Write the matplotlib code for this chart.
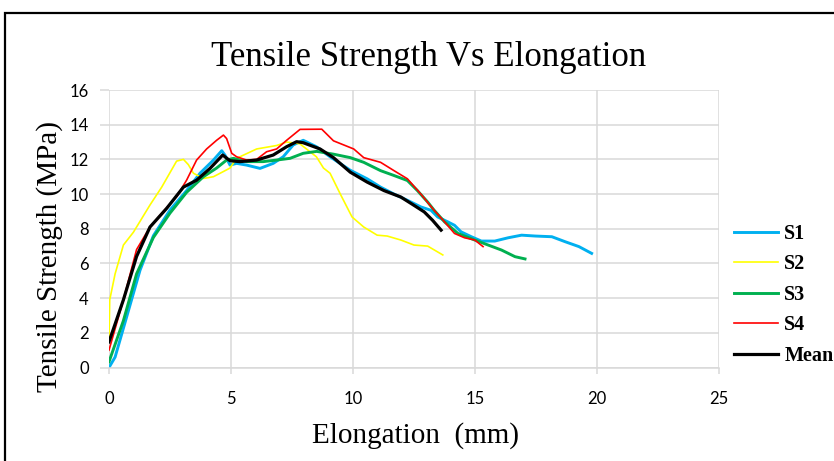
import matplotlib
matplotlib.use("Agg")
import matplotlib.pyplot as plt
from matplotlib.patches import Rectangle

# ---- data ----
s1_x = [0.0, 0.25, 0.72, 1.27, 1.82, 2.5, 3.18, 3.73, 4.28, 4.62, 4.75, 4.96, 5.23, 5.64, 6.19, 6.73, 7.14, 7.55, 7.96,
        8.5, 9.06, 9.88, 10.58, 11.13, 11.68, 12.23, 12.78, 13.2, 13.47, 13.88, 14.16, 14.43, 14.85, 15.26, 15.81,
        16.36, 16.91, 17.47, 18.15, 18.7, 19.26, 19.78]
s1_y = [0.0, 0.6, 2.9, 5.6, 7.6, 9.08, 10.2, 11.2, 11.96, 12.5, 12.25, 11.67, 11.77, 11.67, 11.48, 11.77, 12.15, 12.83,
        13.1, 12.73, 12.15, 11.38, 10.88, 10.4, 10.0, 9.64, 9.26, 9.06, 8.68, 8.4, 8.2, 7.82, 7.54, 7.29, 7.29,
        7.48, 7.63, 7.58, 7.54, 7.25, 6.97, 6.58]

s2_x = [0.0, 0.03, 0.25, 0.59, 1.0, 1.68, 2.16, 2.77, 3.05, 3.25, 3.46, 3.87, 4.28, 4.69, 4.96, 5.23, 6.05, 6.87,
        7.28, 7.82, 8.5, 8.79, 9.06, 9.48, 9.96, 10.44, 10.99, 11.4, 11.96, 12.5, 13.06, 13.68]
s2_y = [1.6, 3.9, 5.4, 7.06, 7.8, 9.37, 10.4, 11.9, 12.0, 11.7, 11.2, 10.9, 11.0, 11.3, 11.5, 12.06, 12.6, 12.8,
        13.0, 12.9, 12.15, 11.5, 11.2, 10.0, 8.68, 8.1, 7.63, 7.58, 7.35, 7.06, 7.0, 6.49]

s3_x = [0.0, 0.59, 1.13, 1.82, 2.5, 3.18, 3.87, 4.41, 4.82, 5.1, 5.64, 6.32, 6.87, 7.42, 7.96, 8.51, 9.2, 9.89,
        10.44, 11.13, 11.68, 12.23, 12.64, 13.06, 13.33, 13.75, 14.3, 14.99, 15.54, 16.09, 16.64, 17.05]
s3_y = [0.33, 2.7, 5.4, 7.5, 8.9, 10.1, 11.0, 11.5, 11.96, 12.06, 11.87, 11.87, 11.96, 12.06, 12.35, 12.46, 12.3, 12.1,
        11.83, 11.35, 11.07, 10.78, 10.2, 9.54, 9.06, 8.4, 7.73, 7.35, 7.06, 6.77, 6.39, 6.26]

s4_x = [0.0, 0.59, 1.13, 1.68, 2.23, 2.77, 3.18, 3.59, 4.0, 4.41, 4.69, 4.82, 5.03, 5.23, 5.64, 6.05, 6.46, 6.87,
        7.28, 7.83, 8.72, 9.2, 10.03, 10.44, 11.13, 11.68, 12.23, 12.78, 13.33, 13.75, 14.16, 14.57, 14.99, 15.33]
s4_y = [1.0, 3.9, 6.8, 8.1, 9.0, 9.85, 10.8, 11.96, 12.6, 13.1, 13.4, 13.2, 12.35, 12.15, 11.96, 12.0, 12.44, 12.6,
        13.1, 13.73, 13.74, 13.07, 12.6, 12.1, 11.83, 11.35, 10.88, 10.0, 9.06, 8.4, 7.73, 7.48, 7.35, 6.97]

mean_x = [0.0, 0.59, 1.13, 1.68, 2.36, 3.05, 3.59, 4.14, 4.66, 4.96, 5.37, 6.05, 6.73, 7.28, 7.69, 7.96, 8.65,
          9.2, 9.89, 10.58, 11.27, 11.96, 12.5, 12.92, 13.26, 13.61]
mean_y = [1.48, 3.9, 6.4, 8.1, 9.17, 10.4, 10.8, 11.48, 12.25, 11.92, 11.87, 11.96, 12.25, 12.73, 13.02, 12.96, 12.6,
          12.1, 11.26, 10.69, 10.2, 9.83, 9.35, 8.97, 8.49, 7.92]

series_names = ["S1", "S2", "S3", "S4", "Mean"]
x_ticks = [0, 5, 10, 15, 20, 25]
y_ticks = [0, 2, 4, 6, 8, 10, 12, 14, 16]

# ---- figure ----
W, H = 834, 461
fig = plt.figure(figsize=(W / 100, H / 100), dpi=100)
ax = fig.add_axes([109 / W, 1 - 367.5 / H, (719 - 109) / W, (367.5 - 90) / H])

styles = [("#00B0F0", 2.1), ("#FFFF00", 1.2), ("#00B050", 2.1), ("#FF0000", 1.2), ("#000000", 2.3)]
data = [(s1_x, s1_y), (s2_x, s2_y), (s3_x, s3_y), (s4_x, s4_y), (mean_x, mean_y)]
for (xs, ys), (c, lw), name in zip(data, styles, series_names):
    ax.plot(xs, ys, color=c, lw=lw, label=name, solid_joinstyle="round")

ax.set_xlim(0, 25)
ax.set_ylim(0, 16)
ax.set_xticks(x_ticks)
ax.set_yticks(y_ticks)
ax.grid(True, color="#D9D9D9", lw=1.1)
ax.set_axisbelow(True)
for s in ["top", "right", "left"]:
    ax.spines[s].set_visible(False)
ax.spines["bottom"].set_color("#D9D9D9")
ax.spines["bottom"].set_linewidth(1.1)
ax.tick_params(axis="both", color="#D9D9D9", width=1.1, labelsize=12, labelcolor="black")
ax.tick_params(axis="y", length=6.5, pad=8)
ax.tick_params(axis="x", length=4, pad=13)
for lab in ax.get_xticklabels() + ax.get_yticklabels():
    lab.set_family("Lato")

fig.text(429 / W, 1 - 57 / H, "Tensile Strength Vs Elongation", ha="center", va="center",
         family="Liberation Serif", fontsize=25)
fig.text(415 / W, 1 - 436 / H, "Elongation  (mm)", ha="center", va="center",
         family="Liberation Serif", fontsize=21)
fig.text(50 / W, 1 - 257 / H, "Tensile Strength (MPa)", ha="center", va="center", rotation=90,
         family="Liberation Serif", fontsize=21)

leg = ax.legend(loc="upper left", bbox_to_anchor=(734 / W, 1 - 224 / H), bbox_transform=fig.transFigure,
                frameon=False, prop={"family": "Liberation Serif", "weight": "bold", "size": 14.5},
                handlelength=2.2, handletextpad=0.3, labelspacing=0.52, borderaxespad=0, borderpad=0)

fig.patches.append(Rectangle((5 / W, -0.05), 1.2, 1 - 13 / H + 0.05, transform=fig.transFigure,
                             fill=False, edgecolor="black", lw=1.6))

fig.savefig("out.png", dpi=100)
